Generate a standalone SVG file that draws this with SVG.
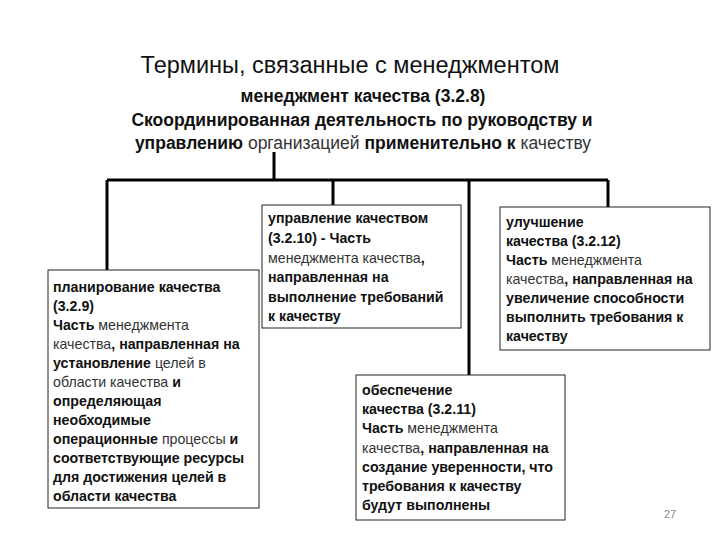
<svg xmlns="http://www.w3.org/2000/svg" width="720" height="540" viewBox="0 0 720 540">
<style>
text{font-family:"Liberation Sans","DejaVu Sans",sans-serif;fill:#111}
.b{font-weight:bold}
.n{font-weight:normal;fill:#333}
.t{font-size:14.2px}
.h{font-size:17.5px;font-weight:bold}
.box{fill:#fff;stroke:#222;stroke-width:1}
.ln{stroke:#000;stroke-width:3;fill:none}
</style>
<rect width="720" height="540" fill="#fff"/>
<g id="title">
<text x="350" y="73" text-anchor="middle" style="font-size:23.5px">Термины, связанные с менеджментом</text>
<text x="363" y="102" text-anchor="middle" class="h">менеджмент качества (3.2.8)</text>
<text x="362" y="126" text-anchor="middle" class="h">Скоординированная деятельность по руководству и</text>
<text x="363" y="149" text-anchor="middle" class="h">управлению<tspan class="n"> организацией </tspan>применительно к<tspan class="n"> качеству</tspan></text>
</g>
<g id="connectors">
<path class="ln" d="M274 152V180M107 180H608M107 180V270M333 180V205M469 180V375M608 180V207"/>
</g>
<g id="planning">
<rect class="box" x="48" y="270" width="211" height="238"/>
<text class="t b" x="53" y="292">планирование качества</text>
<text class="t b" x="53" y="311">(3.2.9)</text>
<text class="t b" x="53" y="330">Часть<tspan class="n"> менеджмента</tspan></text>
<text class="t b" x="53" y="349"><tspan class="n">качества</tspan>, направленная на</text>
<text class="t b" x="53" y="368">установление<tspan class="n"> целей в</tspan></text>
<text class="t b" x="53" y="387"><tspan class="n">области качества</tspan> и</text>
<text class="t b" x="53" y="406">определяющая</text>
<text class="t b" x="53" y="425">необходимые</text>
<text class="t b" x="53" y="444">операционные<tspan class="n"> процессы </tspan> и</text>
<text class="t b" x="53" y="463">соответствующие ресурсы</text>
<text class="t b" x="53" y="482">для достижения целей в</text>
<text class="t b" x="53" y="501">области качества</text>
</g>
<g id="control">
<rect class="box" x="262" y="205" width="199" height="123"/>
<text class="t b" x="268" y="223">управление качеством</text>
<text class="t b" x="268" y="243">(3.2.10) - Часть</text>
<text class="t b" x="268" y="263"><tspan class="n">менеджмента качества</tspan>,</text>
<text class="t b" x="268" y="282">направленная на</text>
<text class="t b" x="268" y="302">выполнение требований</text>
<text class="t b" x="268" y="321">к качеству</text>
</g>
<g id="improvement">
<rect class="box" x="500" y="207" width="210" height="143"/>
<text class="t b" x="506" y="227">улучшение</text>
<text class="t b" x="506" y="246">качества (3.2.12)</text>
<text class="t b" x="506" y="265">Часть<tspan class="n"> менеджмента</tspan></text>
<text class="t b" x="506" y="284"><tspan class="n">качества</tspan>, направленная на</text>
<text class="t b" x="506" y="303">увеличение способности</text>
<text class="t b" x="506" y="322">выполнить требования к</text>
<text class="t b" x="506" y="341">качеству</text>
</g>
<g id="assurance">
<rect class="box" x="356" y="375" width="209" height="145"/>
<text class="t b" x="362" y="395">обеспечение</text>
<text class="t b" x="362" y="414">качества (3.2.11)</text>
<text class="t b" x="362" y="433">Часть<tspan class="n"> менеджмента</tspan></text>
<text class="t b" x="362" y="453"><tspan class="n">качества</tspan>, направленная на</text>
<text class="t b" x="362" y="472">создание уверенности, что</text>
<text class="t b" x="362" y="491">требования к качеству</text>
<text class="t b" x="362" y="510">будут выполнены</text>
</g>
<text x="664" y="518" style="font-size:11px;fill:#888">27</text>
</svg>
